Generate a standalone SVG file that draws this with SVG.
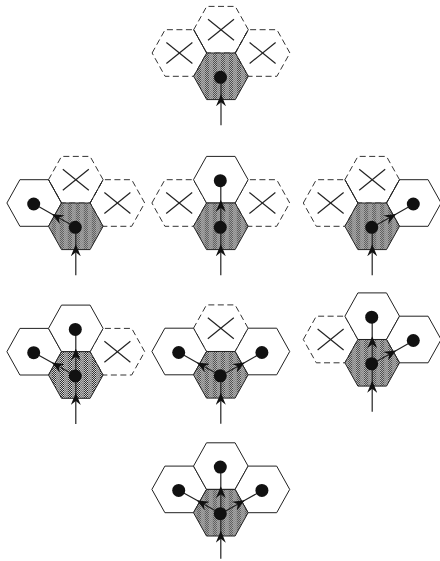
<svg xmlns="http://www.w3.org/2000/svg" xmlns:xlink="http://www.w3.org/1999/xlink" width="440" height="561" viewBox="0 0 440 561">
<style>
.dash{fill:none;stroke:#333;stroke-width:1;stroke-dasharray:6 3.5}
.sol{fill:#fff;stroke:#222;stroke-width:1}
.shd{fill:url(#shade);stroke:#222;stroke-width:1}
.edge{fill:none;stroke:#222;stroke-width:1}
.xm line{stroke:#222;stroke-width:1.2}
.dot{fill:#111}
.arr{fill:none;stroke:#222;stroke-width:1.2;marker-mid:url(#ah)}
</style>
<defs>
<pattern id="shade" patternUnits="userSpaceOnUse" x="0" y="0" width="8" height="2">
<g shape-rendering="crispEdges">
<rect x="0" y="0" width="4" height="2" fill="#fff"/>
<rect x="0" y="0" width="1" height="1" fill="#000"/>
<rect x="2" y="0" width="1" height="1" fill="#000"/>
<rect x="1" y="1" width="1" height="1" fill="#000"/>
<rect x="3" y="1" width="1" height="1" fill="#000"/>
<rect x="4" y="0" width="4" height="2" fill="#c8c8c8"/>
<rect x="4" y="0" width="1" height="1" fill="#666"/>
<rect x="6" y="0" width="1" height="1" fill="#666"/>
<rect x="5" y="1" width="1" height="1" fill="#666"/>
<rect x="7" y="1" width="1" height="1" fill="#666"/>
</g>
</pattern>
<polygon id="hx" points="-27.3,0 -14.3,-23.3 14.3,-23.3 27.3,0 14.3,23.3 -14.3,23.3"/>
<g id="xx" class="xm"><line x1="-13" y1="-10.5" x2="13" y2="10.5"/><line x1="-13" y1="10.5" x2="13" y2="-10.5"/></g>
<marker id="ah" markerUnits="userSpaceOnUse" viewBox="0 0 12 10" refX="12" refY="5" markerWidth="12" markerHeight="10" orient="auto">
<path d="M12,5 L0,0 L4,5 L0,10 Z" fill="#111"/>
</marker>
</defs>

<!-- Figure 1: all three neighbours blocked -->
<g id="fig1" transform="translate(221,76.3)">
<g id="fig1-left"><use href="#hx" xlink:href="#hx" class="dash" x="-41.6" y="-23.3"/><use href="#xx" xlink:href="#xx" x="-41.6" y="-23.3"/></g>
<g id="fig1-top"><use href="#hx" xlink:href="#hx" class="dash" x="0" y="-46.6"/><use href="#xx" xlink:href="#xx" x="0" y="-46.6"/></g>
<g id="fig1-right"><use href="#hx" xlink:href="#hx" class="dash" x="41.6" y="-23.3"/><use href="#xx" xlink:href="#xx" x="41.6" y="-23.3"/></g>
<path class="edge" d="M-27.3,-46.6 L-14.3,-23.3 M27.3,-46.6 L14.3,-23.3"/>
<g id="fig1-center"><use href="#hx" xlink:href="#hx" class="shd"/></g>
</g>

<!-- Figure 2: left open -->
<g id="fig2" transform="translate(75.8,226.3)">
<g id="fig2-top"><use href="#hx" xlink:href="#hx" class="dash" x="0" y="-46.6"/><use href="#xx" xlink:href="#xx" x="0" y="-46.6"/></g>
<g id="fig2-right"><use href="#hx" xlink:href="#hx" class="dash" x="41.6" y="-23.3"/><use href="#xx" xlink:href="#xx" x="41.6" y="-23.3"/></g>
<g id="fig2-left"><use href="#hx" xlink:href="#hx" class="sol" x="-41.6" y="-23.3"/></g>
<path class="edge" d="M-27.3,-46.6 L-14.3,-23.3 M27.3,-46.6 L14.3,-23.3"/>
<g id="fig2-center"><use href="#hx" xlink:href="#hx" class="shd"/></g>
</g>

<!-- Figure 3: top open -->
<g id="fig3" transform="translate(220.8,226.3)">
<g id="fig3-left"><use href="#hx" xlink:href="#hx" class="dash" x="-41.6" y="-23.3"/><use href="#xx" xlink:href="#xx" x="-41.6" y="-23.3"/></g>
<g id="fig3-right"><use href="#hx" xlink:href="#hx" class="dash" x="41.6" y="-23.3"/><use href="#xx" xlink:href="#xx" x="41.6" y="-23.3"/></g>
<g id="fig3-top"><use href="#hx" xlink:href="#hx" class="sol" x="0" y="-46.6"/></g>
<g id="fig3-center"><use href="#hx" xlink:href="#hx" class="shd"/></g>
</g>

<!-- Figure 4: right open -->
<g id="fig4" transform="translate(372.2,226.3)">
<g id="fig4-left"><use href="#hx" xlink:href="#hx" class="dash" x="-41.6" y="-23.3"/><use href="#xx" xlink:href="#xx" x="-41.6" y="-23.3"/></g>
<g id="fig4-top"><use href="#hx" xlink:href="#hx" class="dash" x="0" y="-46.6"/><use href="#xx" xlink:href="#xx" x="0" y="-46.6"/></g>
<g id="fig4-right"><use href="#hx" xlink:href="#hx" class="sol" x="41.6" y="-23.3"/></g>
<path class="edge" d="M-27.3,-46.6 L-14.3,-23.3 M27.3,-46.6 L14.3,-23.3"/>
<g id="fig4-center"><use href="#hx" xlink:href="#hx" class="shd"/></g>
</g>

<!-- Figure 5: left and top open -->
<g id="fig5" transform="translate(75.8,375)">
<g id="fig5-right"><use href="#hx" xlink:href="#hx" class="dash" x="41.6" y="-23.3"/><use href="#xx" xlink:href="#xx" x="41.6" y="-23.3"/></g>
<g id="fig5-left"><use href="#hx" xlink:href="#hx" class="sol" x="-41.6" y="-23.3"/></g>
<g id="fig5-top"><use href="#hx" xlink:href="#hx" class="sol" x="0" y="-46.6"/></g>
<g id="fig5-center"><use href="#hx" xlink:href="#hx" class="shd"/></g>
</g>

<!-- Figure 6: left and right open -->
<g id="fig6" transform="translate(220.8,374.8)">
<g id="fig6-top"><use href="#hx" xlink:href="#hx" class="dash" x="0" y="-46.6"/><use href="#xx" xlink:href="#xx" x="0" y="-46.6"/></g>
<g id="fig6-left"><use href="#hx" xlink:href="#hx" class="sol" x="-41.6" y="-23.3"/></g>
<g id="fig6-right"><use href="#hx" xlink:href="#hx" class="sol" x="41.6" y="-23.3"/></g>
<g id="fig6-center"><use href="#hx" xlink:href="#hx" class="shd"/></g>
</g>

<!-- Figure 7: top and right open -->
<g id="fig7" transform="translate(372.2,362.8)">
<g id="fig7-left"><use href="#hx" xlink:href="#hx" class="dash" x="-41.6" y="-23.3"/><use href="#xx" xlink:href="#xx" x="-41.6" y="-23.3"/></g>
<g id="fig7-top"><use href="#hx" xlink:href="#hx" class="sol" x="0" y="-46.6"/></g>
<g id="fig7-right"><use href="#hx" xlink:href="#hx" class="sol" x="41.6" y="-23.3"/></g>
<g id="fig7-center"><use href="#hx" xlink:href="#hx" class="shd"/></g>
</g>

<!-- Figure 8: all open -->
<g id="fig8" transform="translate(220.8,512.7)">
<g id="fig8-left"><use href="#hx" xlink:href="#hx" class="sol" x="-41.6" y="-23.3"/></g>
<g id="fig8-top"><use href="#hx" xlink:href="#hx" class="sol" x="0" y="-46.6"/></g>
<g id="fig8-right"><use href="#hx" xlink:href="#hx" class="sol" x="41.6" y="-23.3"/></g>
<g id="fig8-center"><use href="#hx" xlink:href="#hx" class="shd"/></g>
</g>

<!-- Connectors -->
<g id="connectors">
<g transform="translate(221,76.3)"><path class="arr" d="M0,49 L0,18 L0,1"/></g>
<g transform="translate(75.8,226.3)"><path class="arr" d="M0,49 L0,18 L0,1"/><path class="arr" d="M0,1 L-24,-12.4 L-41.6,-22.3"/></g>
<g transform="translate(220.8,226.3)"><path class="arr" d="M0,49 L0,18 L0,1"/><path class="arr" d="M0,1 L0,-26.5 L0,-45.6"/></g>
<g transform="translate(372.2,226.3)"><path class="arr" d="M0,49 L0,18 L0,1"/><path class="arr" d="M0,1 L24,-12.4 L41.6,-22.3"/></g>
<g transform="translate(75.8,375)"><path class="arr" d="M0,49 L0,18 L0,1"/><path class="arr" d="M0,1 L-24,-12.4 L-41.6,-22.3"/><path class="arr" d="M0,1 L0,-26.5 L0,-45.6"/></g>
<g transform="translate(220.8,374.8)"><path class="arr" d="M0,49 L0,18 L0,1"/><path class="arr" d="M0,1 L-24,-12.4 L-41.6,-22.3"/><path class="arr" d="M0,1 L24,-12.4 L41.6,-22.3"/></g>
<g transform="translate(372.2,362.8)"><path class="arr" d="M0,49 L0,18 L0,1"/><path class="arr" d="M0,1 L0,-26.5 L0,-45.6"/><path class="arr" d="M0,1 L24,-12.4 L41.6,-22.3"/></g>
<g transform="translate(220.8,512.7)"><path class="arr" d="M0,46 L0,18 L0,1"/><path class="arr" d="M0,1 L-24,-12.4 L-41.6,-22.3"/><path class="arr" d="M0,1 L0,-26.5 L0,-45.6"/><path class="arr" d="M0,1 L24,-12.4 L41.6,-22.3"/></g>
</g>

<!-- Dots -->
<g id="dots" class="dot">
<circle cx="220.5" cy="77.3" r="6.5"/>
<circle cx="75.3" cy="227.3" r="6.5"/><circle cx="33.7" cy="204" r="6.5"/>
<circle cx="220.3" cy="227.3" r="6.5"/><circle cx="220.3" cy="180.7" r="6.5"/>
<circle cx="371.7" cy="227.3" r="6.5"/><circle cx="413.3" cy="204" r="6.5"/>
<circle cx="75.3" cy="376" r="6.5"/><circle cx="33.7" cy="352.7" r="6.5"/><circle cx="75.3" cy="329.4" r="6.5"/>
<circle cx="220.3" cy="375.8" r="6.5"/><circle cx="178.7" cy="352.5" r="6.5"/><circle cx="261.9" cy="352.5" r="6.5"/>
<circle cx="371.7" cy="363.8" r="6.5"/><circle cx="371.7" cy="317.2" r="6.5"/><circle cx="413.3" cy="340.5" r="6.5"/>
<circle cx="220.3" cy="513.7" r="6.5"/><circle cx="178.7" cy="490.4" r="6.5"/><circle cx="220.3" cy="467.1" r="6.5"/><circle cx="261.9" cy="490.4" r="6.5"/>
</g>
</svg>
